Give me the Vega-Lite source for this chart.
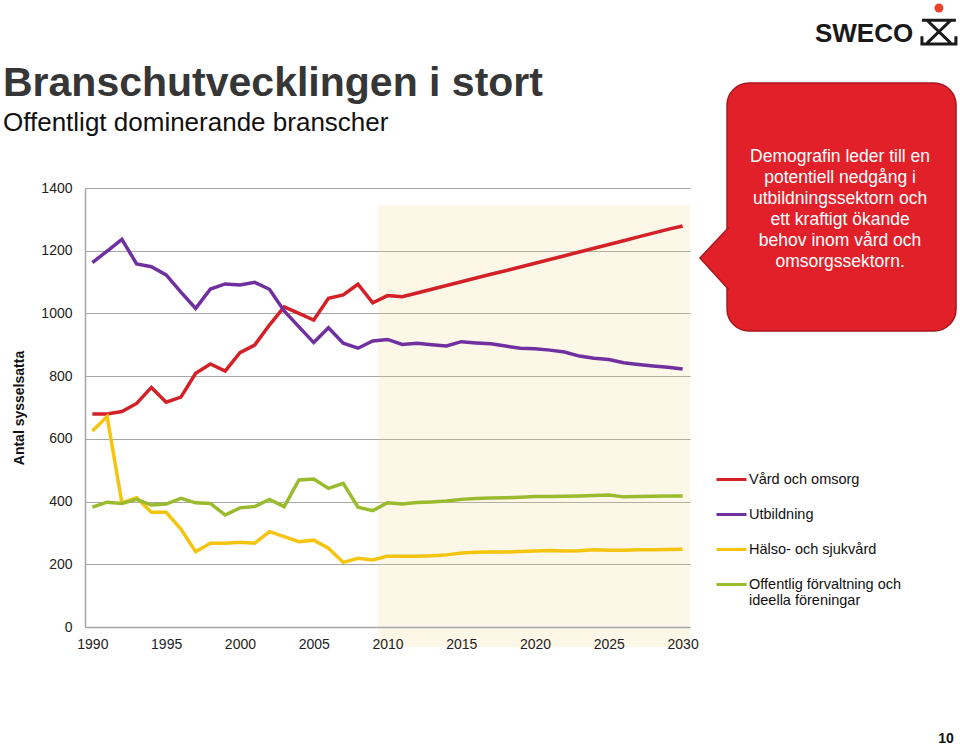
{
  "$schema": "https://vega.github.io/schema/vega-lite/v6.json",
  "width": 605,
  "height": 439,
  "autosize": {"type": "none"},
  "padding": {"left": 85, "top": 188, "right": 270, "bottom": 118},
  "background": "white",
  "config": {
    "view": {"stroke": null},
    "font": "Liberation Sans",
    "axisX": {
      "grid": false, "ticks": false, "labelPadding": 10, "labelFontSize": 14, "labelColor": "#222222",
      "labelFont": "Liberation Sans", "domainColor": "#A6A6A6", "domainWidth": 1.5, "format": "d"
    },
    "axisY": {
      "grid": true, "gridColor": "#A6A6A6", "gridWidth": 1.2, "ticks": false, "format": "d",
      "labelPadding": 13, "labelFontSize": 14, "labelColor": "#222222", "labelFont": "Liberation Sans",
      "domainColor": "#A6A6A6", "domainWidth": 1.5,
      "titleFontSize": 14, "titleFontWeight": "bold", "titleColor": "#111111", "titleFont": "Liberation Sans", "titlePadding": 14
    }
  },
  "title": {
    "text": "Branschutvecklingen i stort",
    "subtitle": "Offentligt dominerande branscher",
    "anchor": "start",
    "frame": "group",
    "dx": -82,
    "offset": -133,
    "font": "Liberation Sans",
    "fontSize": 41,
    "fontWeight": "bold",
    "color": "#363636",
    "subtitleFont": "Liberation Sans",
    "subtitleFontSize": 26,
    "subtitleColor": "#111111",
    "subtitlePadding": 5
  },
  "layer": [
    {
      "data": {"values": [{}]},
      "mark": {"type": "rect", "fill": "#F5D98A", "opacity": 0.2},
      "encoding": {
        "x": {"datum": 2009.36, "type": "quantitative"},
        "x2": {"datum": 2030.5},
        "y": {"datum": -64, "type": "quantitative"},
        "y2": {"datum": 1346}
      }
    },
    {
      "data": {
        "values": [
          {"year": 1990, "Vård och omsorg": 679, "Utbildning": 1162, "Hälso- och sjukvård": 625, "Offentlig förvaltning och ideella föreningar": 382},
          {"year": 1991, "Vård och omsorg": 679, "Utbildning": 1199, "Hälso- och sjukvård": 671, "Offentlig förvaltning och ideella föreningar": 398},
          {"year": 1992, "Vård och omsorg": 687, "Utbildning": 1236, "Hälso- och sjukvård": 396, "Offentlig förvaltning och ideella föreningar": 394},
          {"year": 1993, "Vård och omsorg": 713, "Utbildning": 1158, "Hälso- och sjukvård": 412, "Offentlig förvaltning och ideella föreningar": 407},
          {"year": 1994, "Vård och omsorg": 764, "Utbildning": 1149, "Hälso- och sjukvård": 366, "Offentlig förvaltning och ideella föreningar": 389},
          {"year": 1995, "Vård och omsorg": 717, "Utbildning": 1123, "Hälso- och sjukvård": 366, "Offentlig förvaltning och ideella föreningar": 392},
          {"year": 1996, "Vård och omsorg": 733, "Utbildning": 1068, "Hälso- och sjukvård": 312, "Offentlig förvaltning och ideella föreningar": 410},
          {"year": 1997, "Vård och omsorg": 809, "Utbildning": 1016, "Hälso- och sjukvård": 240, "Offentlig förvaltning och ideella föreningar": 396},
          {"year": 1998, "Vård och omsorg": 839, "Utbildning": 1078, "Hälso- och sjukvård": 267, "Offentlig förvaltning och ideella föreningar": 394},
          {"year": 1999, "Vård och omsorg": 816, "Utbildning": 1094, "Hälso- och sjukvård": 267, "Offentlig förvaltning och ideella föreningar": 357},
          {"year": 2000, "Vård och omsorg": 875, "Utbildning": 1091, "Hälso- och sjukvård": 270, "Offentlig förvaltning och ideella föreningar": 380},
          {"year": 2001, "Vård och omsorg": 899, "Utbildning": 1099, "Hälso- och sjukvård": 267, "Offentlig förvaltning och ideella föreningar": 384},
          {"year": 2002, "Vård och omsorg": 963, "Utbildning": 1077, "Hälso- och sjukvård": 304, "Offentlig förvaltning och ideella föreningar": 407},
          {"year": 2003, "Vård och omsorg": 1021, "Utbildning": 1008, "Hälso- och sjukvård": 288, "Offentlig förvaltning och ideella föreningar": 384},
          {"year": 2004, "Vård och omsorg": 1000, "Utbildning": 957, "Hälso- och sjukvård": 272, "Offentlig förvaltning och ideella föreningar": 469},
          {"year": 2005, "Vård och omsorg": 979, "Utbildning": 907, "Hälso- och sjukvård": 277, "Offentlig förvaltning och ideella föreningar": 472},
          {"year": 2006, "Vård och omsorg": 1048, "Utbildning": 954, "Hälso- och sjukvård": 251, "Offentlig förvaltning och ideella föreningar": 442},
          {"year": 2007, "Vård och omsorg": 1059, "Utbildning": 905, "Hälso- och sjukvård": 206, "Offentlig förvaltning och ideella föreningar": 458},
          {"year": 2008, "Vård och omsorg": 1093, "Utbildning": 889, "Hälso- och sjukvård": 219, "Offentlig förvaltning och ideella föreningar": 382},
          {"year": 2009, "Vård och omsorg": 1034, "Utbildning": 912, "Hälso- och sjukvård": 214, "Offentlig förvaltning och ideella föreningar": 371},
          {"year": 2010, "Vård och omsorg": 1057, "Utbildning": 917, "Hälso- och sjukvård": 226, "Offentlig förvaltning och ideella föreningar": 396},
          {"year": 2011, "Vård och omsorg": 1053, "Utbildning": 901, "Hälso- och sjukvård": 226, "Offentlig förvaltning och ideella föreningar": 392},
          {"year": 2012, "Vård och omsorg": 1065, "Utbildning": 905, "Hälso- och sjukvård": 226, "Offentlig förvaltning och ideella föreningar": 397},
          {"year": 2013, "Vård och omsorg": 1077, "Utbildning": 900, "Hälso- och sjukvård": 227, "Offentlig förvaltning och ideella föreningar": 399},
          {"year": 2014, "Vård och omsorg": 1089, "Utbildning": 896, "Hälso- och sjukvård": 230, "Offentlig förvaltning och ideella föreningar": 402},
          {"year": 2015, "Vård och omsorg": 1101, "Utbildning": 910, "Hälso- och sjukvård": 236, "Offentlig förvaltning och ideella föreningar": 407},
          {"year": 2016, "Vård och omsorg": 1113, "Utbildning": 906, "Hälso- och sjukvård": 238, "Offentlig förvaltning och ideella föreningar": 410},
          {"year": 2017, "Vård och omsorg": 1125, "Utbildning": 903, "Hälso- och sjukvård": 239, "Offentlig förvaltning och ideella föreningar": 411},
          {"year": 2018, "Vård och omsorg": 1136, "Utbildning": 896, "Hälso- och sjukvård": 239, "Offentlig förvaltning och ideella föreningar": 412},
          {"year": 2019, "Vård och omsorg": 1148, "Utbildning": 889, "Hälso- och sjukvård": 241, "Offentlig förvaltning och ideella föreningar": 414},
          {"year": 2020, "Vård och omsorg": 1160, "Utbildning": 887, "Hälso- och sjukvård": 242, "Offentlig förvaltning och ideella föreningar": 416},
          {"year": 2021, "Vård och omsorg": 1172, "Utbildning": 883, "Hälso- och sjukvård": 244, "Offentlig förvaltning och ideella föreningar": 416},
          {"year": 2022, "Vård och omsorg": 1184, "Utbildning": 877, "Hälso- och sjukvård": 242, "Offentlig förvaltning och ideella föreningar": 417},
          {"year": 2023, "Vård och omsorg": 1196, "Utbildning": 864, "Hälso- och sjukvård": 243, "Offentlig förvaltning och ideella föreningar": 418},
          {"year": 2024, "Vård och omsorg": 1208, "Utbildning": 857, "Hälso- och sjukvård": 246, "Offentlig förvaltning och ideella föreningar": 419},
          {"year": 2025, "Vård och omsorg": 1220, "Utbildning": 853, "Hälso- och sjukvård": 245, "Offentlig förvaltning och ideella föreningar": 421},
          {"year": 2026, "Vård och omsorg": 1232, "Utbildning": 843, "Hälso- och sjukvård": 245, "Offentlig förvaltning och ideella föreningar": 415},
          {"year": 2027, "Vård och omsorg": 1244, "Utbildning": 837, "Hälso- och sjukvård": 246, "Offentlig förvaltning och ideella föreningar": 416},
          {"year": 2028, "Vård och omsorg": 1256, "Utbildning": 832, "Hälso- och sjukvård": 246, "Offentlig förvaltning och ideella föreningar": 417},
          {"year": 2029, "Vård och omsorg": 1268, "Utbildning": 828, "Hälso- och sjukvård": 247, "Offentlig förvaltning och ideella föreningar": 418},
          {"year": 2030, "Vård och omsorg": 1279, "Utbildning": 823, "Hälso- och sjukvård": 248, "Offentlig förvaltning och ideella föreningar": 418}
        ]
      },
      "transform": [
        {"fold": ["Vård och omsorg", "Utbildning", "Hälso- och sjukvård", "Offentlig förvaltning och ideella föreningar"], "as": ["series", "value"]}
      ],
      "mark": {"type": "line", "strokeWidth": 3.5},
      "encoding": {
        "x": {
          "field": "year", "type": "quantitative",
          "scale": {"domain": [1989.5, 2030.5], "nice": false, "zero": false},
          "axis": {"title": null, "zindex": 1, "values": [1990, 1995, 2000, 2005, 2010, 2015, 2020, 2025, 2030]}
        },
        "y": {
          "field": "value", "type": "quantitative",
          "scale": {"domain": [0, 1400], "nice": false, "zero": false},
          "axis": {"title": "Antal sysselsatta", "format": "d", "values": [0, 200, 400, 600, 800, 1000, 1200, 1400]}
        },
        "color": {
          "field": "series", "type": "nominal",
          "scale": {
            "domain": ["Vård och omsorg", "Utbildning", "Hälso- och sjukvård", "Offentlig förvaltning och ideella föreningar"],
            "range": ["#D42027", "#7030A0", "#F5C40F", "#9BBB2F"]
          },
          "legend": {
            "orient": "none", "legendX": 630, "legendY": 275, "title": null, "padding": 0,
            "symbolType": "stroke", "symbolSize": 900, "symbolStrokeWidth": 3,
            "labelFontSize": 14.5, "labelColor": "#111111", "labelFont": "Liberation Sans",
            "labelOffset": 1, "rowPadding": 12, "labelLimit": 300,
            "labelExpr": "datum.label == 'Offentlig förvaltning och ideella föreningar' ? ['Offentlig förvaltning och', 'ideella föreningar'] : datum.label"
          }
        }
      }
    },
    {
      "data": {"values": [{}]},
      "layer": [
        {
          "mark": {"type": "rect", "fill": "#E2202A", "stroke": "#A8191E", "strokeWidth": 1.5, "cornerRadius": 22},
          "encoding": {
            "x": {"datum": 2033.01, "type": "quantitative"},
            "x2": {"datum": 2048.53},
            "y": {"datum": 1734.9, "type": "quantitative"},
            "y2": {"datum": 944}
          }
        },
        {
          "mark": {"type": "point", "shape": "M0.47,-0.97L-0.44,0L0.47,1", "filled": true, "fill": "#E2202A", "stroke": "#A8191E", "strokeWidth": 1.5, "size": 4096, "opacity": 1},
          "encoding": {
            "x": {"datum": 2032.13, "type": "quantitative"},
            "y": {"datum": 1176.8, "type": "quantitative"}
          }
        },
        {
          "mark": {
            "type": "text",
            "text": ["Demografin leder till en", "potentiell nedgång i", "utbildningssektorn och", "ett kraftigt ökande", "behov inom vård och", "omsorgssektorn."],
            "color": "#FFFFFF", "fontSize": 17.5, "lineHeight": 21, "align": "center", "baseline": "middle", "font": "Liberation Sans"
          },
          "encoding": {
            "x": {"datum": 2040.67, "type": "quantitative"},
            "y": {"datum": 1498.9, "type": "quantitative"}
          }
        },
        {
          "mark": {"type": "text", "text": "SWECO", "color": "#1A1A1A", "fontSize": 26, "fontWeight": "bold", "align": "left", "baseline": "alphabetic", "font": "Liberation Sans"},
          "encoding": {
            "x": {"datum": 2038.97, "type": "quantitative"},
            "y": {"datum": 1865.6, "type": "quantitative"}
          }
        },
        {
          "mark": {"type": "point", "shape": "M-1,-0.4L1,-0.4M-0.7,-0.4L0.7,0.95M0.7,-0.4L-0.7,0.95M-1,0.55L-1,1L1,1L1,0.55", "filled": false, "stroke": "#1A1A1A", "strokeWidth": 3, "size": 1156, "opacity": 1},
          "encoding": {
            "x": {"datum": 2047.37, "type": "quantitative"},
            "y": {"datum": 1913.4, "type": "quantitative"}
          }
        },
        {
          "mark": {"type": "point", "shape": "circle", "filled": true, "fill": "#E8412C", "size": 80, "opacity": 1},
          "encoding": {
            "x": {"datum": 2047.37, "type": "quantitative"},
            "y": {"datum": 1974, "type": "quantitative"}
          }
        },
        {
          "mark": {"type": "text", "text": "10", "color": "#111111", "fontSize": 14, "fontWeight": "bold", "align": "center", "baseline": "middle", "font": "Liberation Sans"},
          "encoding": {
            "x": {"datum": 2047.85, "type": "quantitative"},
            "y": {"datum": -357.2, "type": "quantitative"}
          }
        }
      ]
    }
  ]
}
